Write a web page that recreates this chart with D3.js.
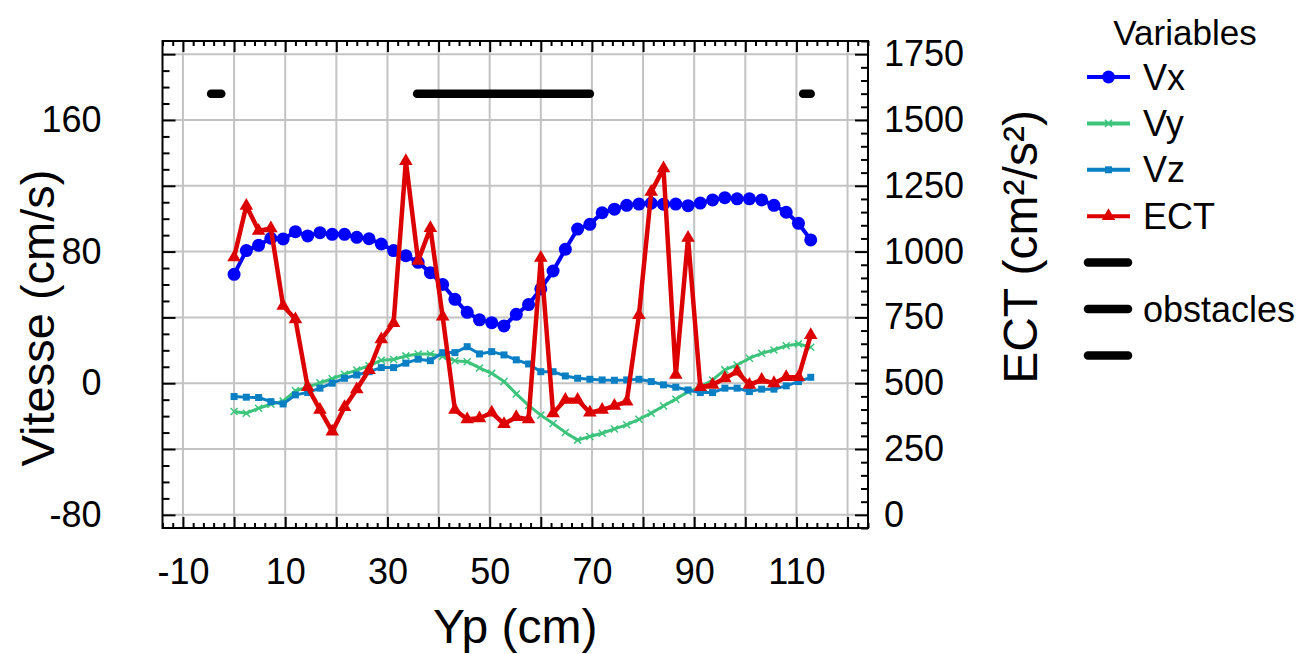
<!DOCTYPE html>
<html><head><meta charset="utf-8">
<script src="https://cdn.jsdelivr.net/npm/d3@7"></script>
<style>
body{margin:0;background:#fff}
svg{display:block}
text{font-family:"Liberation Sans",Arial,Helvetica,sans-serif;fill:#000}
</style>
</head><body><svg id="c" width="1302" height="654"></svg>
<script>
// ---------- data ----------
const yp = [0, 2.4, 4.8, 7.2, 9.6, 12, 14.4, 16.8, 19.2, 21.6, 24, 26.4, 28.8, 31.2, 33.6, 36, 38.4, 40.8, 43.2, 45.6, 48, 50.4, 52.8, 55.2, 57.6, 60, 62.4, 64.8, 67.2, 69.6, 72, 74.4, 76.8, 79.2, 81.6, 84, 86.4, 88.8, 91.2, 93.6, 96, 98.4, 100.8, 103.2, 105.6, 108, 110.4, 112.8];
const vx = [66.2, 80.6, 83.8, 88.1, 87.7, 92.1, 89.5, 91.5, 90.5, 90.5, 88.7, 87.8, 84.6, 80.6, 77.5, 73.5, 67.2, 60.0, 51.0, 43.1, 38.5, 36.8, 34.8, 41.9, 47.8, 57.3, 68.2, 81.4, 93.7, 96.6, 103.6, 105.8, 108.1, 108.9, 109.4, 108.8, 108.9, 107.9, 109.5, 111.4, 112.8, 112.1, 112.1, 111.4, 108.1, 103.9, 97.2, 87.1];
const vy = [-17.2, -18.2, -15.2, -12.8, -10.9, -4.6, -2.4, 0.2, 2.7, 5.5, 8.0, 10.6, 14.0, 14.4, 16.6, 17.8, 17.8, 16.3, 13.7, 13.1, 9.3, 6.0, 1.1, -6.5, -13.5, -19.4, -24.5, -29.9, -34.6, -32.4, -30.4, -27.8, -25.3, -21.9, -18.2, -13.8, -9.7, -5.1, -2.4, 2.0, 8.1, 11.1, 15.2, 18.2, 20.2, 22.8, 23.9, 21.9];
const vz = [-8.1, -8.5, -8.7, -11.2, -12.6, -7.1, -5.7, -3.0, 0, 3.0, 5.0, 7.0, 9.5, 9.5, 12.2, 14.6, 13.7, 18.6, 18.6, 22.2, 17.8, 19.2, 17.2, 14.2, 11.7, 7.0, 7.0, 4.4, 3.0, 2.4, 2.0, 1.8, 2.0, 2.4, 1.0, -1.0, -2.4, -4.1, -5.7, -5.7, -3.0, -3.0, -5.1, -3.6, -3.6, -1.6, 1.0, 3.6];
const ect = [978, 1174, 1079, 1088, 794, 743, 485, 399, 316, 409, 477, 550, 667, 728, 1344, 965, 1089, 753, 399, 363, 367, 388, 345, 371, 363, 976, 386, 437, 437, 388, 399, 414, 430, 759, 1227, 1316, 532, 1052, 485, 494, 519, 544, 494, 513, 500, 523, 523, 683];
const obstacleStart = [-4.5, 35.8, 111.3];
const obstacleEnd = [-2.5, 69.6, 112.8];
const obstacleLevel = [1600, 1600, 1600];

const xTickValues = [-10, 0, 10, 20, 30, 40, 50, 60, 70, 80, 90, 100, 110, 120];
const xTickLabels = [-10, 10, 30, 50, 70, 90, 110];
const leftTickValues = [-80, -40, 0, 40, 80, 120, 160, 200];
const leftTickLabels = [-80, 0, 80, 160];
const rightTickValues = [0, 250, 500, 750, 1000, 1250, 1500, 1750];

const seriesNames = ["Vx", "Vy", "Vz", "ECT"];
const seriesColors = ["#0000ff", "#3cc47c", "#0a7fc4", "#dd0000"];
const legendTitle = "Variables";
const obstacleLabel = "obstacles";

// ---------- layout ----------
const L = 162.5, R = 868, T = 41, B = 528;
const svg = d3.select("#c");
const x = d3.scaleLinear().domain([-14, 124]).range([L, R]);
const yL = d3.scaleLinear().domain([-88, 208]).range([B, T]);
const yR = d3.scaleLinear().domain([-50, 1800]).range([B, T]);

// grid
const grid = svg.append("g").attr("stroke", "#c3c3c3").attr("stroke-width", 2);
grid.selectAll(".gv").data(xTickValues).join("line")
  .attr("x1", d => x(d)).attr("x2", d => x(d)).attr("y1", T).attr("y2", B);
grid.selectAll(".gh").data(leftTickValues).join("line")
  .attr("y1", d => yL(d)).attr("y2", d => yL(d)).attr("x1", L).attr("x2", R);

// obstacles
svg.append("g").selectAll("line").data(obstacleStart).join("line")
  .attr("x1", (d) => x(d)).attr("x2", (d, i) => x(obstacleEnd[i]))
  .attr("y1", (d, i) => yR(obstacleLevel[i])).attr("y2", (d, i) => yR(obstacleLevel[i]))
  .attr("stroke", "#000").attr("stroke-width", 8.5).attr("stroke-linecap", "round");

// series
const series = [
  {name: "Vx", vals: vx, y: yL, w: 4},
  {name: "Vy", vals: vy, y: yL, w: 3},
  {name: "Vz", vals: vz, y: yL, w: 3},
  {name: "ECT", vals: ect, y: yR, w: 4.5}
];
function marker(g, name, color) {
  if (name === "Vx") g.append("circle").attr("r", 6.5).attr("fill", color);
  else if (name === "Vy") g.append("path").attr("d", "M-3.5,-3.5L3.5,3.5M-3.5,3.5L3.5,-3.5").attr("stroke", color).attr("stroke-width", 1.5).attr("fill", "none");
  else if (name === "Vz") g.append("rect").attr("x", -3.5).attr("y", -3.5).attr("width", 7).attr("height", 7).attr("fill", color);
  else g.append("path").attr("d", d3.symbol(d3.symbolTriangle).size(80)()).attr("fill", color);
}
series.forEach((s, k) => {
  const color = seriesColors[k];
  const g = svg.append("g");
  g.append("path").datum(s.vals)
    .attr("fill", "none").attr("stroke", color).attr("stroke-width", s.w).attr("stroke-linejoin", "round")
    .attr("d", d3.line().x((d, i) => x(yp[i])).y(d => s.y(d)));
  s.vals.forEach((v, i) => {
    const mg = g.append("g").attr("transform", `translate(${x(yp[i])},${s.y(v)})`);
    marker(mg, s.name, color);
  });
});

// frame
svg.append("rect").attr("x", L).attr("y", T).attr("width", R - L).attr("height", B - T)
  .attr("fill", "none").attr("stroke", "#000").attr("stroke-width", 2);

// axes
const fs = 36;
function styleAxis(g) { g.select(".domain").remove(); g.selectAll("line").attr("stroke", "#000").attr("stroke-width", 2); }
const minorX = d3.range(-14, 125, 2).filter(v => v % 10 !== 0);
// bottom
svg.append("g").attr("transform", `translate(0,${B})`)
  .call(d3.axisBottom(x).tickValues(xTickValues).tickSize(-11).tickPadding(0)
    .tickFormat(d => xTickLabels.includes(d) ? d : ""))
  .call(styleAxis)
  .call(g => g.selectAll("text").attr("font-size", fs).attr("y", 56).attr("dy", 0).attr("font-family", null));
svg.append("g").attr("transform", `translate(0,${B})`)
  .call(d3.axisBottom(x).tickValues(minorX).tickSize(-5).tickFormat("")).call(styleAxis);
// top
svg.append("g").attr("transform", `translate(0,${T})`)
  .call(d3.axisTop(x).tickValues(xTickValues).tickSize(-11).tickFormat("")).call(styleAxis);
svg.append("g").attr("transform", `translate(0,${T})`)
  .call(d3.axisTop(x).tickValues(minorX).tickSize(-5).tickFormat("")).call(styleAxis);
// left
const minorL = d3.range(-80, 209, 10).filter(v => v % 40 !== 0);
svg.append("g").attr("transform", `translate(${L},0)`)
  .call(d3.axisLeft(yL).tickValues(leftTickValues).tickSize(-13).tickPadding(61)
    .tickFormat(d => leftTickLabels.includes(d) ? d : ""))
  .call(styleAxis)
  .call(g => g.selectAll("text").attr("font-size", fs).attr("font-family", null));
svg.append("g").attr("transform", `translate(${L},0)`)
  .call(d3.axisLeft(yL).tickValues(minorL).tickSize(-7).tickFormat("")).call(styleAxis);
// right
const minorR = d3.range(-50, 1801, 50).filter(v => v % 250 !== 0);
svg.append("g").attr("transform", `translate(${R},0)`)
  .call(d3.axisRight(yR).tickValues(rightTickValues).tickSize(-13).tickPadding(16).tickFormat(d3.format("d")))
  .call(styleAxis)
  .call(g => g.selectAll("text").attr("font-size", fs).attr("font-family", null));
svg.append("g").attr("transform", `translate(${R},0)`)
  .call(d3.axisRight(yR).tickValues(minorR).tickSize(-7).tickFormat("")).call(styleAxis);

// axis titles
svg.append("text").attr("x", (L + R) / 2).attr("y", 643).attr("text-anchor", "middle").attr("font-size", 48).text("Yp (cm)");
svg.append("text").attr("transform", "translate(54,318) rotate(-90)").attr("text-anchor", "middle").attr("font-size", 47).text("Vitesse (cm/s)");
svg.append("text").attr("transform", "translate(1037,247) rotate(-90)").attr("text-anchor", "middle").attr("font-size", 48).text("ECT (cm²/s²)");

// legend
const lg = svg.append("g");
lg.append("text").attr("x", 1185).attr("y", 45).attr("text-anchor", "middle").attr("font-size", 35).text(legendTitle);
const rowY = i => 77 + i * 46.4;
seriesNames.forEach((n, i) => {
  const y = rowY(i);
  lg.append("line").attr("x1", 1087).attr("x2", 1130).attr("y1", y).attr("y2", y)
    .attr("stroke", seriesColors[i]).attr("stroke-width", 4);
  const mg = lg.append("g").attr("transform", `translate(1108.5,${y})`);
  marker(mg, n, seriesColors[i]);
  lg.append("text").attr("x", 1143).attr("y", y).attr("dy", "0.35em").attr("font-size", 36).text(n);
});
[0, 1, 2].forEach(j => {
  const y = rowY(4 + j);
  lg.append("line").attr("x1", 1088).attr("x2", 1128).attr("y1", y).attr("y2", y)
    .attr("stroke", "#000").attr("stroke-width", 8.5).attr("stroke-linecap", "round");
  if (j === 1) lg.append("text").attr("x", 1143).attr("y", y).attr("dy", "0.35em").attr("font-size", 36).text(obstacleLabel);
});
</script>
</body></html>
